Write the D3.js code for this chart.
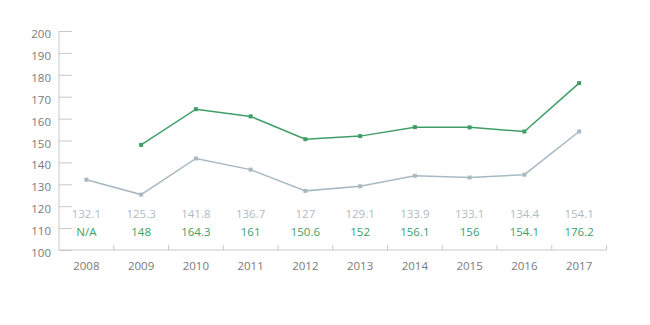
<!DOCTYPE html>
<html>
<head>
<meta charset="utf-8">
<script src="https://cdn.jsdelivr.net/npm/d3@7"></script>
<style>
  body { margin: 0; background: #fff; }
  svg { display: block; font-family: "Open Sans", sans-serif; }
</style>
</head>
<body>
<svg id="chart" width="650" height="325"></svg>
<script>
// Yearly values for the two series
const years = ["2008", "2009", "2010", "2011", "2012", "2013", "2014", "2015", "2016", "2017"];
const greySeries = [132.1, 125.3, 141.8, 136.7, 127, 129.1, 133.9, 133.1, 134.4, 154.1];
const greenSeries = [null, 148, 164.3, 161, 150.6, 152, 156.1, 156, 154.1, 176.2];
const yTicks = [100, 110, 120, 130, 140, 150, 160, 170, 180, 190, 200];

const greyColor = "#a8b9c3";
const greenColor = "#3f9e68";
const axisColor = "#c8c8c8";
const textColor = "#7a7a7a";

const svg = d3.select("#chart");
const plotLeft = 59, plotRight = 606.5, plotTop = 31, plotBottom = 250;

const x = d3.scaleBand().domain(years).range([plotLeft, plotRight]);
const y = d3.scaleLinear().domain([100, 200]).range([plotBottom, plotTop]);

// Y axis: line plus short inward ticks
const yAxis = svg.append("g").attr("transform", `translate(${plotLeft},0)`)
  .call(d3.axisRight(y).tickValues(yTicks).tickSize(13).tickFormat(""));
yAxis.select(".domain").remove();
yAxis.selectAll(".tick line").attr("stroke", axisColor);
svg.append("line").attr("x1", plotLeft).attr("x2", plotLeft).attr("y1", plotTop).attr("y2", plotBottom)
  .attr("stroke", axisColor);
svg.append("g").selectAll("text").data(yTicks).join("text")
  .attr("x", 51).attr("y", d => y(d) + 3).attr("dy", "0.35em")
  .attr("text-anchor", "end").attr("font-size", 11.5).attr("fill", textColor)
  .text(d => d);

// X axis: baseline with small upward ticks at band edges
svg.append("line").attr("x1", plotLeft).attr("x2", plotRight).attr("y1", plotBottom).attr("y2", plotBottom)
  .attr("stroke", axisColor);
svg.append("g").selectAll("line").data(years).join("line")
  .attr("x1", d => x(d) + x.bandwidth()).attr("x2", d => x(d) + x.bandwidth())
  .attr("y1", plotBottom).attr("y2", plotBottom - 5)
  .attr("stroke", axisColor);
svg.append("g").selectAll("text").data(years).join("text")
  .attr("x", d => x(d) + x.bandwidth() / 2).attr("y", 266).attr("dy", "0.35em")
  .attr("text-anchor", "middle").attr("font-size", 11.5).attr("fill", textColor)
  .text(d => d);

const cx = i => x(years[i]) + x.bandwidth() / 2;

function drawSeries(values, color) {
  const pts = values.map((v, i) => ({ v, i })).filter(p => p.v !== null);
  const line = d3.line().x(p => cx(p.i)).y(p => y(p.v));
  svg.append("path").datum(pts).attr("d", line)
    .attr("fill", "none").attr("stroke", color).attr("stroke-width", 1.5);
  svg.append("g").selectAll("rect").data(pts).join("rect")
    .attr("x", p => cx(p.i) - 2).attr("y", p => y(p.v) - 2)
    .attr("width", 4).attr("height", 4).attr("fill", color);
}
drawSeries(greySeries, greyColor);
drawSeries(greenSeries, greenColor);

// Value rows
svg.append("g").selectAll("text").data(greySeries).join("text")
  .attr("x", (d, i) => cx(i)).attr("y", 214).attr("dy", "0.35em")
  .attr("text-anchor", "middle").attr("font-size", 11.5).attr("fill", "#aebbc3")
  .text(d => d);
svg.append("g").selectAll("text").data(greenSeries).join("text")
  .attr("x", (d, i) => cx(i)).attr("y", 232).attr("dy", "0.35em")
  .attr("text-anchor", "middle").attr("font-size", 11.5).attr("fill", greenColor)
  .text(d => d === null ? "N/A" : d);
</script>
</body>
</html>
